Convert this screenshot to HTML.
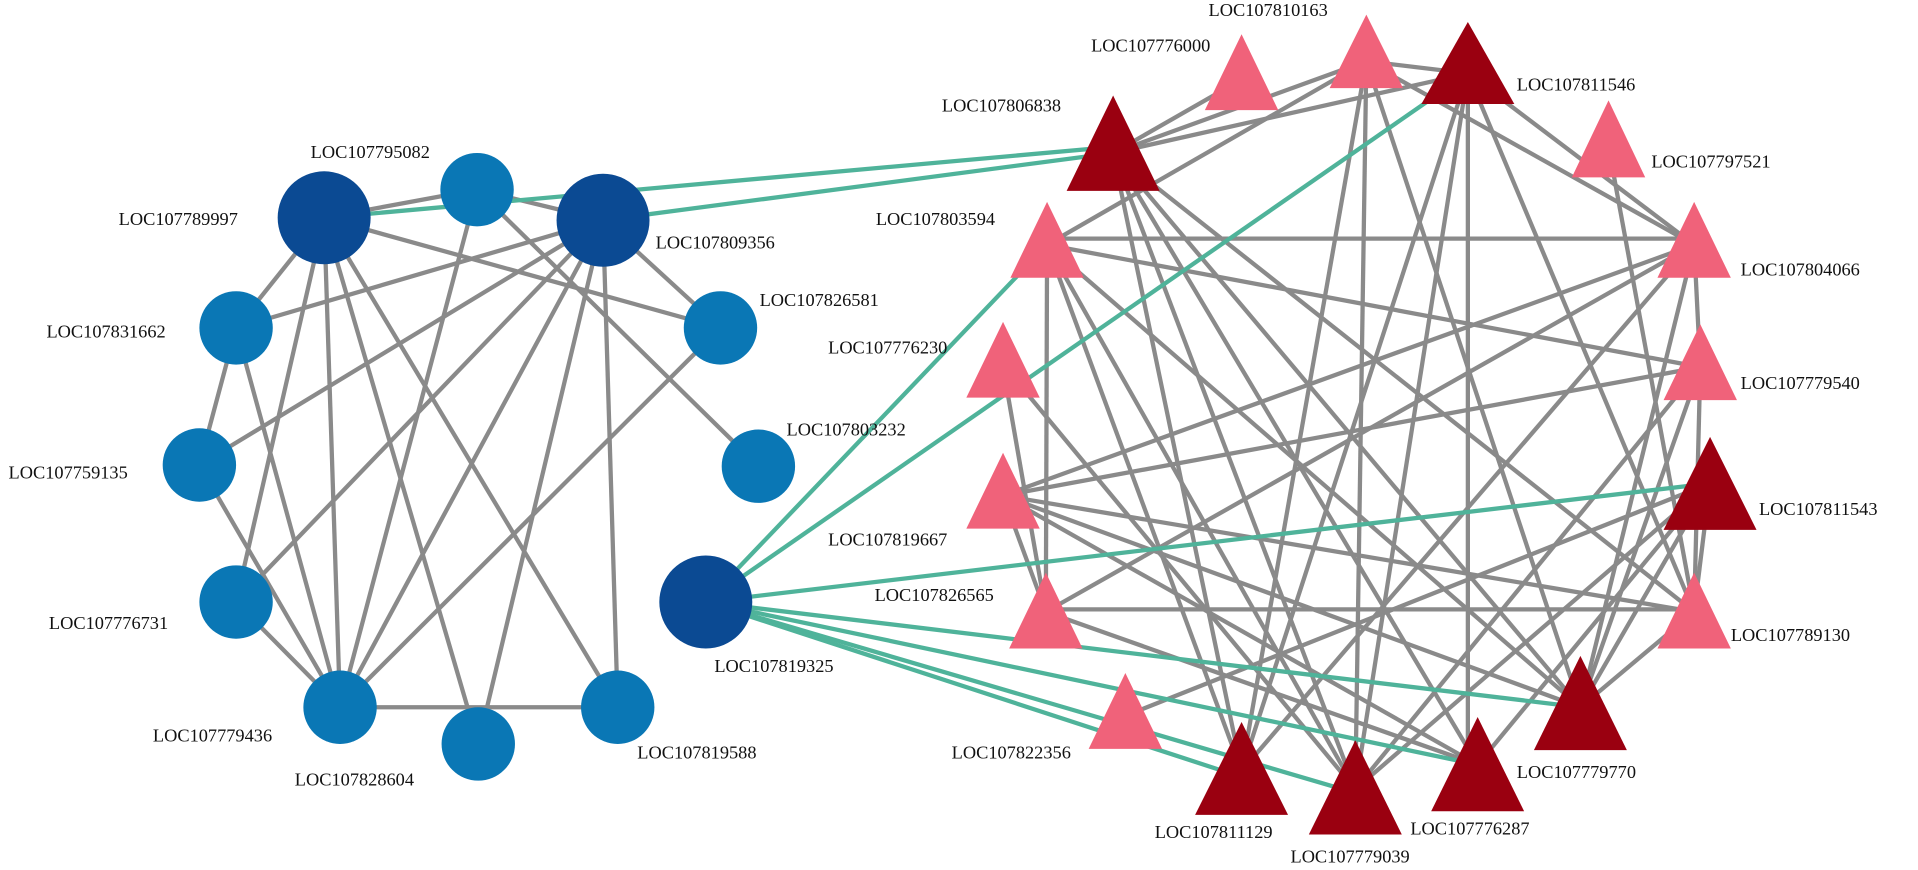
<!DOCTYPE html>
<html><head><meta charset="utf-8"><style>html,body{margin:0;padding:0;background:#fff;overflow:hidden}svg{display:block}text{font-family:"Liberation Serif",serif;font-size:15px;fill:#111}</style></head><body>
<svg width="1918" height="870" viewBox="0 0 1568 711" preserveAspectRatio="none" xmlns="http://www.w3.org/2000/svg">
<g stroke="#8a8a8a" stroke-width="3.5" fill="none">
<!-- left network -->
<line x1="265" y1="178" x2="390" y2="155"/><line x1="390" y1="155" x2="493" y2="180"/>
<line x1="265" y1="178" x2="193" y2="268"/><line x1="265" y1="178" x2="193" y2="492"/>
<line x1="265" y1="178" x2="278" y2="578"/><line x1="265" y1="178" x2="391" y2="608"/>
<line x1="265" y1="178" x2="505" y2="578"/><line x1="265" y1="178" x2="589" y2="268"/>
<line x1="390" y1="155" x2="278" y2="578"/><line x1="390" y1="155" x2="620" y2="381"/>
<line x1="493" y1="180" x2="193" y2="268"/><line x1="493" y1="180" x2="163" y2="380"/>
<line x1="493" y1="180" x2="193" y2="492"/><line x1="493" y1="180" x2="278" y2="578"/>
<line x1="493" y1="180" x2="391" y2="608"/><line x1="493" y1="180" x2="505" y2="578"/>
<line x1="493" y1="180" x2="589" y2="268"/>
<line x1="193" y1="268" x2="163" y2="380"/><line x1="193" y1="268" x2="278" y2="578"/>
<line x1="163" y1="380" x2="278" y2="578"/><line x1="589" y1="268" x2="278" y2="578"/>
<line x1="278" y1="578" x2="505" y2="578"/><line x1="193" y1="492" x2="278" y2="578"/>
<!-- right network -->
<line x1="856" y1="195" x2="1385" y2="195"/><line x1="855" y1="498" x2="1385" y2="498"/>
<line x1="1117" y1="50" x2="1108" y2="645"/><line x1="1200" y1="65" x2="1200" y2="620"/>
<line x1="856" y1="200" x2="855" y2="500"/><line x1="820" y1="300" x2="855" y2="500"/>
<line x1="1117" y1="50" x2="910" y2="125"/><line x1="1117" y1="50" x2="1015" y2="630"/>
<line x1="1117" y1="50" x2="1292" y2="578"/><line x1="1117" y1="50" x2="1200" y2="60"/>
<line x1="1015" y1="65" x2="910" y2="125"/><line x1="1117" y1="50" x2="856" y2="200"/>
<line x1="1200" y1="60" x2="910" y2="125"/><line x1="1200" y1="60" x2="1385" y2="200"/>
<line x1="1200" y1="60" x2="1108" y2="645"/><line x1="1200" y1="60" x2="1385" y2="500"/>
<line x1="1200" y1="60" x2="1015" y2="630"/><line x1="1117" y1="50" x2="1385" y2="200"/>
<line x1="910" y1="125" x2="1108" y2="645"/><line x1="910" y1="125" x2="1208" y2="625"/>
<line x1="910" y1="125" x2="1385" y2="500"/><line x1="910" y1="125" x2="1015" y2="630"/>
<line x1="910" y1="125" x2="1292" y2="578"/>
<line x1="1315" y1="120" x2="1385" y2="500"/>
<line x1="856" y1="200" x2="1390" y2="300"/><line x1="856" y1="200" x2="1108" y2="645"/>
<line x1="856" y1="200" x2="1292" y2="578"/>
<line x1="1385" y1="200" x2="820" y2="405"/><line x1="1385" y1="200" x2="855" y2="500"/>
<line x1="1385" y1="200" x2="1390" y2="300"/><line x1="1385" y1="200" x2="1015" y2="630"/>
<line x1="1390" y1="300" x2="820" y2="405"/><line x1="1390" y1="300" x2="1292" y2="578"/>
<line x1="1390" y1="300" x2="1108" y2="645"/><line x1="1390" y1="300" x2="1385" y2="500"/>
<line x1="820" y1="298" x2="1108" y2="645"/>
<line x1="820" y1="405" x2="1385" y2="500"/><line x1="820" y1="405" x2="1208" y2="625"/>
<line x1="820" y1="405" x2="1292" y2="578"/><line x1="820" y1="405" x2="855" y2="500"/>
<line x1="1398" y1="395" x2="1108" y2="645"/><line x1="1398" y1="395" x2="1208" y2="625"/>
<line x1="1398" y1="395" x2="920" y2="585"/><line x1="1398" y1="395" x2="1385" y2="500"/>
<line x1="1398" y1="395" x2="1292" y2="578"/><line x1="1385" y1="200" x2="1292" y2="578"/>
<line x1="855" y1="500" x2="1208" y2="625"/><line x1="856" y1="200" x2="1015" y2="630"/>
<line x1="1385" y1="500" x2="1292" y2="578"/>
</g>
<g stroke="#4fb39a" stroke-width="3.5" fill="none">
<line x1="265" y1="178" x2="910" y2="120"/><line x1="493" y1="180" x2="910" y2="125"/>
<line x1="577" y1="492" x2="856" y2="200"/><line x1="577" y1="492" x2="1200" y2="60"/>
<line x1="577" y1="492" x2="1398" y2="395"/><line x1="577" y1="492" x2="1292" y2="578"/>
<line x1="577" y1="492" x2="1208" y2="625"/><line x1="577" y1="492" x2="1108" y2="648"/>
<line x1="577" y1="492" x2="1015" y2="635"/>
</g>
<g fill="#0b4a93"><circle cx="265" cy="178" r="38"/><circle cx="493" cy="180" r="38"/><circle cx="577" cy="492" r="38"/></g>
<g fill="#0a77b5"><circle cx="390" cy="155" r="30"/><circle cx="193" cy="268" r="30"/><circle cx="589" cy="268" r="30"/><circle cx="163" cy="380" r="30"/><circle cx="620" cy="381" r="30"/><circle cx="193" cy="492" r="30"/><circle cx="278" cy="578" r="30"/><circle cx="391" cy="608" r="30"/><circle cx="505" cy="578" r="30"/></g>
<g fill="#f0627a">
<polygon points="1117,12 1147,72 1087,72"/><polygon points="1015,28 1045,90 985,90"/>
<polygon points="1315,82 1345,145 1285,145"/><polygon points="856,165 886,227 826,227"/>
<polygon points="1385,165 1415,227 1355,227"/><polygon points="820,263 850,325 790,325"/>
<polygon points="1390,265 1420,327 1360,327"/><polygon points="820,370 850,432 790,432"/>
<polygon points="855,468 885,530 825,530"/><polygon points="1385,468 1415,530 1355,530"/>
<polygon points="920,550 950,612 890,612"/>
</g>
<g fill="#9a0010">
<polygon points="1200,18 1238,85 1162,85"/><polygon points="910,78 948,156 872,156"/>
<polygon points="1398,357 1436,433 1360,433"/><polygon points="1292,536 1330,613 1254,613"/>
<polygon points="1015,590 1053,666 977,666"/><polygon points="1108,605 1146,682 1070,682"/>
<polygon points="1208,586 1246,663 1170,663"/>
</g>
<text x="254" y="129">LOC107795082</text><text x="97" y="184">LOC107789997</text>
<text x="536" y="203">LOC107809356</text><text x="38" y="276">LOC107831662</text>
<text x="621" y="250">LOC107826581</text><text x="7" y="391">LOC107759135</text>
<text x="643" y="356">LOC107803232</text><text x="40" y="514">LOC107776731</text>
<text x="125" y="606">LOC107779436</text><text x="241" y="642">LOC107828604</text>
<text x="521" y="620">LOC107819588</text><text x="584" y="549">LOC107819325</text>
<text x="988" y="13">LOC107810163</text><text x="892" y="42">LOC107776000</text>
<text x="1240" y="74">LOC107811546</text><text x="770" y="91">LOC107806838</text>
<text x="1350" y="137">LOC107797521</text><text x="716" y="184">LOC107803594</text>
<text x="1423" y="225">LOC107804066</text><text x="677" y="289">LOC107776230</text>
<text x="1423" y="318">LOC107779540</text><text x="677" y="446">LOC107819667</text>
<text x="1438" y="421">LOC107811543</text><text x="715" y="491">LOC107826565</text>
<text x="1415" y="524">LOC107789130</text><text x="778" y="620">LOC107822356</text>
<text x="1240" y="636">LOC107779770</text><text x="944" y="685">LOC107811129</text>
<text x="1153" y="682">LOC107776287</text><text x="1055" y="705">LOC107779039</text>
</svg>
</body></html>
